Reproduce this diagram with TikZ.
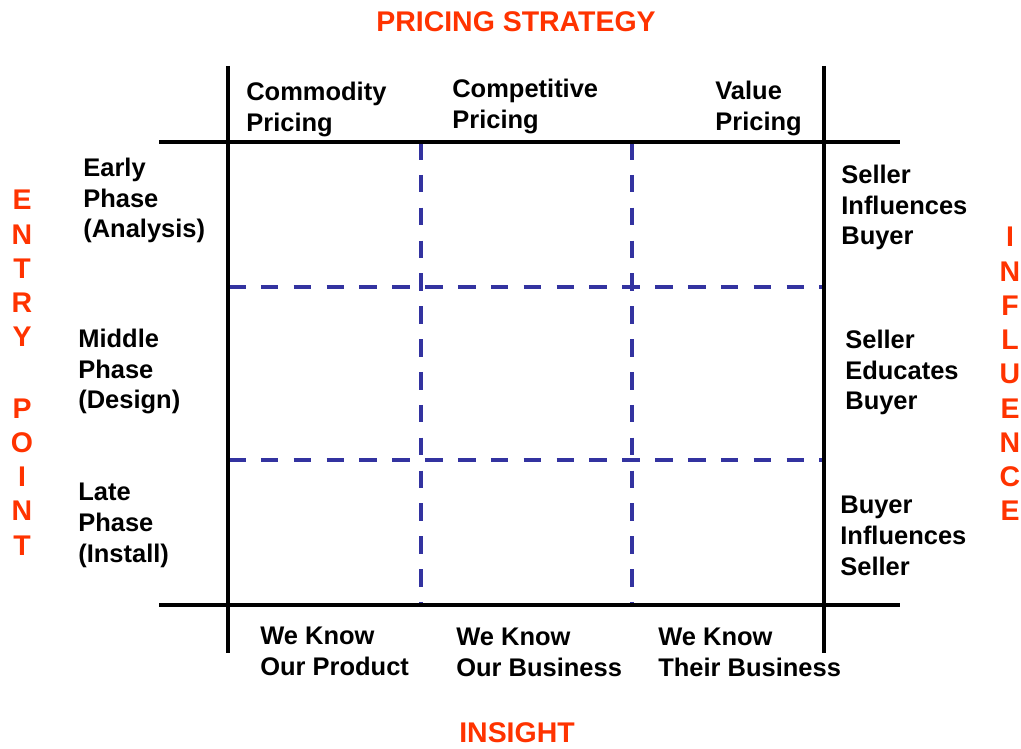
\documentclass[tikz,border=0pt]{standalone}
\usepackage{fontspec}
\setmainfont{Liberation Sans}
\usetikzlibrary{positioning}

\definecolor{titlered}{RGB}{255,51,0}
\definecolor{gridblue}{RGB}{51,51,160}

\begin{document}
\begin{tikzpicture}[
        x=0.02cm, y=-0.02cm,
        frame/.style={line width=2.1pt, black},
        divider/.style={line width=2.2pt, gridblue, dash pattern=on 10pt off 8.7pt},
        label/.style={anchor=north west, inner sep=0pt, align=left, font=\fontsize{14.5}{17.4}\selectfont\bfseries},
        title/.style={inner sep=0pt, text=titlered, font=\fontsize{16.2}{19.5}\selectfont\bfseries},
        column/.style={title, align=center}
    ]
    \useasboundingbox (0,0) rectangle (1021,749);

    % 网格的角点
    \coordinate (nw) at (228,142);
    \coordinate (ne) at (824,142);
    \coordinate (sw) at (228,605);
    \coordinate (se) at (824,605);
    \coordinate (c1n) at (421,142);
    \coordinate (c1s) at (421,605);
    \coordinate (c2n) at (632,142);
    \coordinate (c2s) at (632,605);
    \coordinate (r1w) at (228,287);
    \coordinate (r1e) at (824,287);
    \coordinate (r2w) at (228,460);
    \coordinate (r2e) at (824,460);

    % 虚线分隔
    \draw[divider] (c1n) -- (c1s);
    \draw[divider] (c2n) -- (c2s);
    \draw[divider] (r1w) -- (r1e);
    \draw[divider] (r2w) -- (r2e);

    % 实线框
    \draw[frame] (nw) ++(-69,0) -- (ne) -- ++(76,0);
    \draw[frame] (sw) ++(-69,0) -- (se) -- ++(76,0);
    \draw[frame] (nw) ++(0,-76) -- (sw) -- ++(0,48);
    \draw[frame] (ne) ++(0,-76) -- (se) -- ++(0,48);

    % 第一行：定价
    \node[label] (commodity) at (246,82) {Commodity\\Pricing};
    \node[label] (competitive) at (452,79) {Competitive\\Pricing};
    \node[label] (value) at (715,81) {Value\\Pricing};

    % 左列：阶段
    \node[label] (early) at (83,158) {Early\\Phase\\(Analysis)};
    \node[label] (middle) at (78,329) {Middle\\Phase\\(Design)};
    \node[label] (late) at (78,483) {Late\\Phase\\(Install)};

    % 右列：影响
    \node[label] (sinfl) at (841,165) {Seller\\Influences\\Buyer};
    \node[label] (seduc) at (845,330) {Seller\\Educates\\Buyer};
    \node[label] (binfl) at (840,496) {Buyer\\Influences\\Seller};

    % 底行：认知
    \node[label] (product) at (260,627) {We Know\\Our Product};
    \node[label] (business) at (456,628) {We Know\\Our Business};
    \node[label] (theirs) at (658,628) {We Know\\Their Business};

    % 红色标题
    \node[title] (pricing) at (516,22) {PRICING STRATEGY};
    \node[title] (insight) at (517,733) {INSIGHT};
    \node[column] (entry) at (22,268.5) {E\\N\\T\\R\\Y};
    \node[column, below=1.02cm of entry] (point) {P\\O\\I\\N\\T};
    \node[column] (influence) at (1010,374) {I\\N\\F\\L\\U\\E\\N\\C\\E};
\end{tikzpicture}
\end{document}
